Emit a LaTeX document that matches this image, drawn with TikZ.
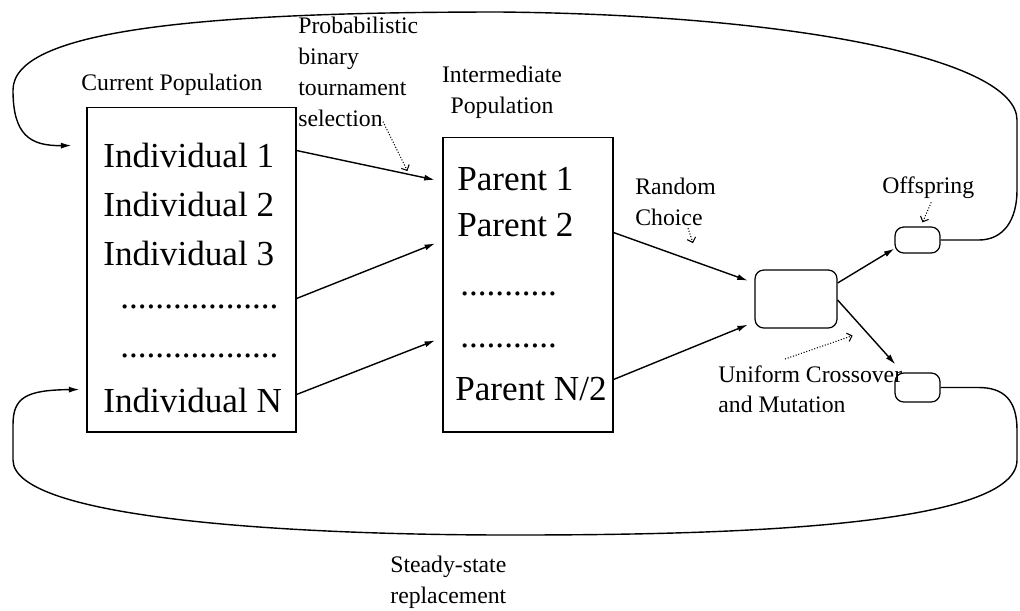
\documentclass[tikz,border=0pt]{standalone}
\usepackage{fontspec}
\setmainfont{Liberation Serif}
\usepackage{tikz}
\usetikzlibrary{calc, shapes, arrows.meta}

\begin{document}
\begin{tikzpicture}[x=0.02cm, y=-0.02cm]
\tikzstyle{popbox}=[draw, line width=0.6pt, inner sep=0pt]
\tikzstyle{opbox}=[draw, line width=0.7pt, rounded corners=5pt, inner sep=0pt]
\tikzstyle{big}=[inner sep=0pt, anchor=base west, font=\fontsize{20}{24}\selectfont]
\tikzstyle{lbl}=[inner sep=0pt, align=left, font=\fontsize{13.5}{17.5}\selectfont]
\tikzstyle{flow}=[line width=0.8pt, -{Latex[length=6pt,width=3.4pt]}]
\tikzstyle{ptr}=[densely dotted, line width=0.6pt, -{Straight Barb[length=2.5pt,width=5pt]}]
\useasboundingbox (0,0) rectangle (1020,610);
% populations
\node[popbox, minimum width=4.18cm, minimum height=6.5cm] (cur) at (191.5,269.5) {};
\node[popbox, minimum width=3.4cm, minimum height=5.9cm] (par) at (528,284.5) {};
\node[big] (ind1) at (103,167) {Individual 1};
\node[big] (ind2) at (103,216) {Individual 2};
\node[big] (ind3) at (103,265) {Individual 3};
\node[big] (idots1) at (120,308) {..................};
\node[big] (idots2) at (120,357) {..................};
\node[big] (indN) at (103,412) {Individual N};
\node[big] (par1) at (457,190) {Parent 1};
\node[big] (par2) at (457,236) {Parent 2};
\node[big] (pdots1) at (460,295) {...........};
\node[big] (pdots2) at (460,347) {...........};
\node[big] (parN) at (455,400) {Parent N/2};
% operator and offspring
\node[opbox, minimum width=1.64cm, minimum height=1.16cm] (mid) at (796,299) {};
\node[opbox, minimum width=0.9cm, minimum height=0.52cm] (off1) at (917.5,240) {};
\node[opbox, minimum width=0.9cm, minimum height=0.58cm] (off2) at (917.5,387.5) {};
% labels
\node[lbl, anchor=west] (curl) at (81,85) {Current Population};
\node[lbl, anchor=north west] (sel) at (298,17) {Probabilistic\\binary\\tournament\\selection};
\node[lbl, align=center] (interl) at (502,92) {Intermediate\\Population};
\node[lbl, anchor=north west] (rc) at (635,178) {Random\\Choice};
\node[lbl, anchor=west] (offl) at (882,188) {Offspring};
\node[lbl, anchor=north west] (ucm) at (718,365) {Uniform Crossover\\and Mutation};
\node[lbl, anchor=north west] (ssr) at (390,556) {Steady-state\\replacement};
% selection arrows
\draw[flow, shorten >=4.5pt] ($(cur.north east)+(0,44)$) -- coordinate[pos=.76] (selpt) ($(par.north west)+(0,45)$);
\draw[flow, shorten >=4.5pt] ($(cur.north east)+(0,192)$) -- ($(par.north west)+(0,104)$);
\draw[flow, shorten >=4.5pt] ($(cur.north east)+(0,288)$) -- ($(par.north west)+(0,201)$);
% random choice
\draw[flow, shorten >=4pt] ($(par.north east)+(0,96)$) -- ($(mid.west)+(0,-16)$);
\draw[flow, shorten >=4pt] ($(par.north east)+(0,243)$) -- ($(mid.west)+(0,23)$);
% to offspring
\draw[flow] ($(mid.east)+(0,-16)$) -- ($(off1.south west)+(0,-5)$);
\draw[flow] ($(mid.east)+(0,1)$) -- ($(off2.north west)+(1,-8)$);
% pointers
\draw[ptr] ($(sel.south west)+(85,-5)$) -- ($(selpt)+(0,-3)$);
\draw[ptr] ($(rc.south west)+(53,2)$) -- ($(rc.south west)+(58,17)$);
\draw[ptr] ($(offl.south)+(3,3)$) -- ($(off1.north)+(5,-4)$);
\draw[ptr] ($(ucm.north west)+(67,-6)$) -- ($(mid.south east)+(15,7)$);
% replacement loops
\draw[flow] (off1.east) -- ++(38,0) .. controls +(25,0) and +(0,30) .. (1017,190) -- (1017,120) .. controls (1017,60) and (800,15) .. (500,12) .. controls (200,12) and (13,30) .. (13,90) .. controls (13,135) and (30,146) .. ($(cur.north west)+(-15,39)$);
\draw[flow] (off2.east) -- ++(38,0) .. controls +(25,0) and +(0,-30) .. (1017,430) -- (1017,460) .. controls (1017,530) and (700,535) .. (510,535) .. controls (300,535) and (13,520) .. (13,460) -- (13,425) .. controls (13,398) and (25,390) .. ($(cur.north west)+(-7,283)$);
\end{tikzpicture}
\end{document}
